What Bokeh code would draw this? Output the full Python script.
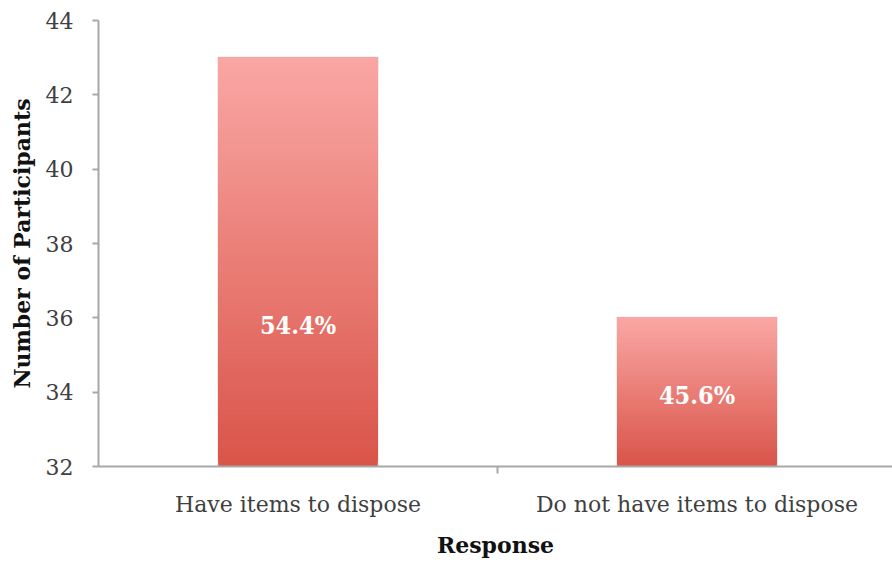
from bokeh.plotting import figure
from bokeh.models import FixedTicker, ColumnDataSource
from bokeh.core.properties import value
from bokeh.embed import file_html
from bokeh.resources import INLINE

categories = ["Have items to dispose", "Do not have items to dispose"]
counts = [43, 36]
percent_labels = ["54.4%", "45.6%"]
label_y = [35.8, 33.9]
y_ticks = [32, 34, 36, 38, 40, 42, 44]

BASE = 32
TOP_COLOR = (250, 167, 164)
BOTTOM_COLOR = (217, 84, 73)
N = 80
BAR_W = 0.4

p = figure(width=892, height=564, output_backend="svg", toolbar_location=None,
           x_range=(0, 1.99), y_range=(32, 44),
           min_border_left=98, min_border_right=0, min_border_top=20, min_border_bottom=98)
p.outline_line_color = None
p.xgrid.grid_line_color = None
p.ygrid.grid_line_color = None

xs = [i + 0.5 for i in range(len(categories))]

# soft shadow
p.quad(left=[x - BAR_W / 2 - 0.003 for x in xs], right=[x + BAR_W / 2 + 0.003 for x in xs],
       bottom=[BASE] * len(xs), top=[c + 0.03 for c in counts],
       fill_color="#999999", fill_alpha=0.18, line_color=None)

# gradient bars: each slice runs from its own bottom to the bar top, drawn dark->light
L, R, B, T, C = [], [], [], [], []
for x, c in zip(xs, counts):
    h = (c - BASE) / N
    for k in range(N):
        f = (k + 0.5) / N
        col = tuple(int(round(BOTTOM_COLOR[j] + (TOP_COLOR[j] - BOTTOM_COLOR[j]) * f)) for j in range(3))
        L.append(x - BAR_W / 2)
        R.append(x + BAR_W / 2)
        B.append(BASE + h * k)
        T.append(c)
        C.append("#%02x%02x%02x" % col)
p.quad(left=L, right=R, bottom=B, top=T, fill_color=C, line_color=None)

src = ColumnDataSource(dict(x=xs, y=label_y, t=percent_labels))
p.text(x="x", y="y", text="t", source=src, text_color="white", text_align="center",
       text_baseline="middle", text_font=value("DejaVu Serif Condensed"),
       text_font_size="25px", text_font_style="bold")

for ax in (p.xaxis[0], p.yaxis[0]):
    ax.axis_line_color = "#a8a8a8"
    ax.axis_line_width = 2
    ax.major_tick_line_color = "#a8a8a8"
    ax.major_tick_line_width = 2
    ax.major_label_text_font = "DejaVu Serif"
    ax.major_label_text_color = "#404040"
    ax.axis_label_text_font = "DejaVu Serif"
    ax.axis_label_text_font_style = "bold"
    ax.axis_label_text_color = "#111111"

p.yaxis.ticker = FixedTicker(ticks=y_ticks)
p.yaxis.major_tick_in = 0
p.yaxis.major_tick_out = 6
p.yaxis.minor_tick_line_color = None
p.yaxis.major_label_text_font_size = "22px"
p.yaxis.major_label_standoff = 19
p.yaxis.axis_label = "Number of Participants"
p.yaxis.axis_label_text_font_size = "22px"
p.yaxis.axis_label_standoff = 8

p.xaxis.ticker = FixedTicker(ticks=xs, minor_ticks=[1.0])
p.xaxis.major_label_overrides = {x: c for x, c in zip(xs, categories)}
p.xaxis.major_tick_line_color = None
p.xaxis.minor_tick_line_color = "#a8a8a8"
p.xaxis.minor_tick_line_width = 2
p.xaxis.minor_tick_in = 0
p.xaxis.minor_tick_out = 7
p.xaxis.major_label_text_font_size = "22px"
p.xaxis.major_label_standoff = 18
p.xaxis.axis_label = "Response"
p.xaxis.axis_label_text_font_size = "22px"
p.xaxis.axis_label_standoff = 12

open("out.html", "w").write(file_html(p, INLINE))
